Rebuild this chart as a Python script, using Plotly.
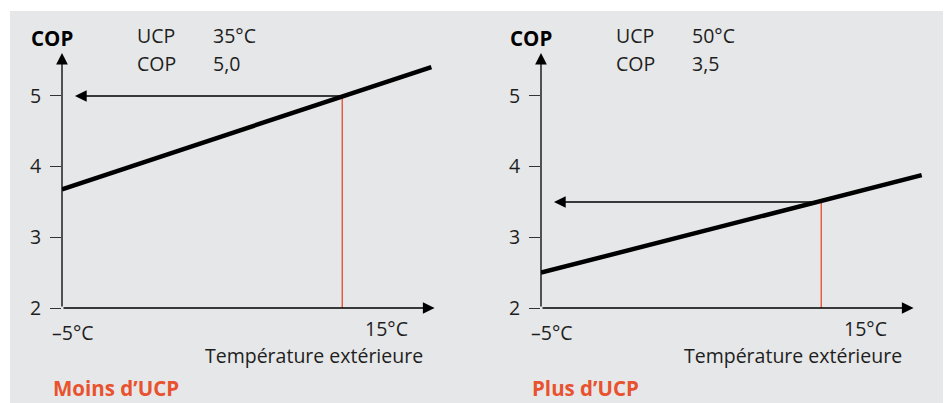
import plotly.graph_objects as go

W, H = 946, 403

# ---------------- data ----------------
temp_axis_start = -5          # °C, where the COP axis sits
temp_axis_end = 18            # °C, tip of the temperature axis arrow
temp_cross = [12.3, 12.3]     # °C, red reading line (left, right panel)
temp_line_end = [17.8, 18.5]  # °C, end of the COP line
cop_at_start = [3.68, 2.50]   # COP of the line at -5 °C
cop_at_end = [5.41, 3.88]     # COP of the line at its end
cop_read = [5.0, 3.5]
arrow_tip_temp = -4.2         # °C, tip of the horizontal reading arrow
cop_axis_top = 5.61           # tip of the COP axis arrow
ucp_values = ["35°C", "50°C"]
cop_texts = ["5,0", "3,5"]
panel_titles = ["Moins d’UCP", "Plus d’UCP"]
y_ticks = [2, 3, 4, 5]
x_tick_values = [-5, 15]
x_tick_labels = ["–5°C", "15°C"]
x_title = "Température extérieure"

# ---------------- style ----------------
FONT = "Open Sans"
TXT = "#1e1e1e"
ORANGE = "#e8522f"
RED = "#e8553a"
BG = "#e6e7e8"
FS = 19.5
px_per_deg = 16.2
px_per_cop = 70.67
axis_px = [62, 541]           # pixel x of the COP axis in each panel
right_px = [470, 946]
base_py = 308                 # pixel y of COP = 2
top_py = 11

def fx(p):
    return p / W

def fy(p):
    return (H - p) / H

fig = go.Figure()
annotations = []

for i in range(2):
    xa = "x" if i == 0 else "x2"
    ya = "y" if i == 0 else "y2"
    # red reading line
    fig.add_trace(go.Scatter(x=[temp_cross[i], temp_cross[i]], y=[y_ticks[0], cop_read[i]],
                             mode="lines", line=dict(color=RED, width=1.4),
                             xaxis=xa, yaxis=ya, hoverinfo="skip", showlegend=False))
    # COP line
    fig.add_trace(go.Scatter(x=[temp_axis_start, temp_line_end[i]], y=[cop_at_start[i], cop_at_end[i]],
                             mode="lines", line=dict(color="black", width=4.5),
                             xaxis=xa, yaxis=ya, hoverinfo="skip", showlegend=False))
    # axes as arrows
    arrow_common = dict(xref=xa, yref=ya, axref=xa, ayref=ya, text="", showarrow=True,
                        arrowhead=2, arrowcolor="black", standoff=0, startstandoff=0)
    annotations.append(dict(x=temp_axis_start, y=cop_axis_top, ax=temp_axis_start, ay=y_ticks[0],
                            arrowwidth=1.3, arrowsize=1.8, **arrow_common))
    annotations.append(dict(x=temp_axis_end, y=y_ticks[0], ax=temp_axis_start, ay=y_ticks[0],
                            arrowwidth=1.3, arrowsize=1.8, **arrow_common))
    # reading arrow
    annotations.append(dict(x=arrow_tip_temp, y=cop_read[i], ax=temp_cross[i], ay=cop_read[i],
                            arrowwidth=1.3, arrowsize=1.8, **arrow_common))

    a = axis_px[i]
    # text labels
    annotations.append(dict(xref="paper", yref="paper", x=fx(a + 13), y=fy(38), xanchor="right",
                            yanchor="middle", text="<b>COP</b>", showarrow=False,
                            font=dict(family=FONT, size=20.5, color="black")))
    annotations.append(dict(xref="paper", yref="paper", x=fx(a + 73), y=fy(35), xanchor="left",
                            yanchor="middle", text="UCP", showarrow=False,
                            font=dict(family=FONT, size=FS, color=TXT)))
    annotations.append(dict(xref="paper", yref="paper", x=fx(a + 149), y=fy(35), xanchor="left",
                            yanchor="middle", text=ucp_values[i], showarrow=False,
                            font=dict(family=FONT, size=FS, color=TXT)))
    annotations.append(dict(xref="paper", yref="paper", x=fx(a + 73), y=fy(63), xanchor="left",
                            yanchor="middle", text="COP", showarrow=False,
                            font=dict(family=FONT, size=FS, color=TXT)))
    annotations.append(dict(xref="paper", yref="paper", x=fx(a + 149), y=fy(63), xanchor="left",
                            yanchor="middle", text=cop_texts[i], showarrow=False,
                            font=dict(family=FONT, size=FS, color=TXT)))
    # x labels
    annotations.append(dict(xref=xa, yref="paper", x=x_tick_values[0], y=fy(332), xanchor="left",
                            xshift=-12, yanchor="middle", text=x_tick_labels[0], showarrow=False,
                            font=dict(family=FONT, size=FS, color=TXT)))
    annotations.append(dict(xref=xa, yref="paper", x=x_tick_values[1], y=fy(328), xanchor="center",
                            yanchor="middle", text=x_tick_labels[1], showarrow=False,
                            font=dict(family=FONT, size=FS, color=TXT)))
    annotations.append(dict(xref="paper", yref="paper", x=fx(a + 363), y=fy(355), xanchor="right",
                            yanchor="middle", text=x_title, showarrow=False,
                            font=dict(family=FONT, size=FS, color=TXT)))
    annotations.append(dict(xref="paper", yref="paper", x=fx(a - 11), y=fy(388), xanchor="left",
                            yanchor="middle", text="<b>" + panel_titles[i] + "</b>", showarrow=False,
                            font=dict(family=FONT, size=20.5, color=ORANGE)))

x_range = [[temp_axis_start, temp_axis_start + (right_px[i] - axis_px[i]) / px_per_deg] for i in range(2)]
y_range = [y_ticks[0], y_ticks[0] + (base_py - top_py) / px_per_cop]

xcommon = dict(showgrid=False, zeroline=False, showline=False, showticklabels=False, ticks="",
               fixedrange=True, automargin=False)
ycommon = dict(showgrid=False, zeroline=False, showline=False, tickvals=y_ticks, ticks="outside",
               ticklen=11, tickwidth=1.3, tickcolor="#333", ticklabelstandoff=5, automargin=False,
               tickfont=dict(family=FONT, size=FS, color=TXT), range=y_range,
               domain=[fy(base_py), fy(top_py)], fixedrange=True)

fig.update_layout(
    template="none",
    width=W, height=H, margin=dict(l=0, r=0, t=0, b=0, pad=0, autoexpand=False),
    paper_bgcolor="white", plot_bgcolor="rgba(0,0,0,0)",
    xaxis=dict(domain=[fx(axis_px[0]), fx(right_px[0])], range=x_range[0], anchor="y", **xcommon),
    xaxis2=dict(domain=[fx(axis_px[1]), fx(right_px[1])], range=x_range[1], anchor="y2", **xcommon),
    yaxis=dict(anchor="x", **ycommon),
    yaxis2=dict(anchor="x2", **ycommon),
    shapes=[dict(type="rect", xref="paper", yref="paper", x0=fx(10), x1=fx(943), y0=0, y1=fy(11),
                 fillcolor=BG, line=dict(width=0), layer="below")],
    annotations=annotations,
    showlegend=False,
)

# remove the page body's default 8px margin so the figure sits at the window's corner
fig.write_html("out.html", config={"displayModeBar": False},
               post_script="document.body.style.margin='0';")
